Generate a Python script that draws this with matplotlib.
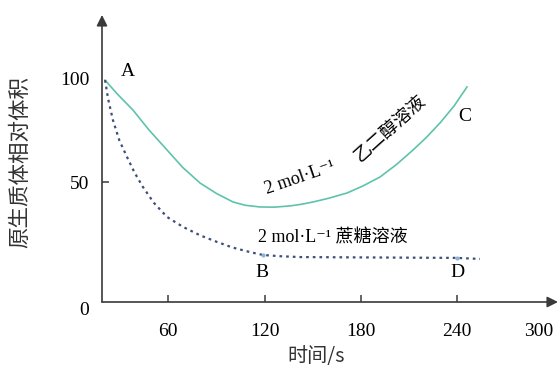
import matplotlib
matplotlib.use('Agg')
import matplotlib.pyplot as plt

plt.rcParams['font.family'] = ['Liberation Serif', 'Noto Sans CJK SC', 'DejaVu Serif']

# 2 mol/L ethylene glycol curve (A -> C)
glycol_t = [20.6, 28, 38.0, 48, 59.2, 69, 79.8, 90, 100.3, 108, 117.1, 126, 135.8, 143,
            150.2, 160, 171.3, 181, 191.9, 202, 212.5, 221, 229.3, 238, 246.1]
glycol_v = [99.0, 92.5, 84.6, 75.0, 65.4, 57.0, 49.5, 44.5, 40.4, 38.8, 38.0, 37.9, 38.5, 39.3,
            40.4, 42.2, 44.7, 48.0, 52.4, 58.3, 65.4, 71.6, 78.4, 86.5, 95.7]

# 2 mol/L sucrose curve (A -> B -> D)
sucrose_t = [20.6, 22.5, 25.5, 29.5, 34.3, 39, 44.2, 51, 59.2, 69.2, 80, 90.3, 100, 110.9,
             119.0, 130, 142.1, 190.0, 239.9, 254.2]
sucrose_v = [99.0, 90.0, 79.8, 70.0, 62.0, 54.5, 47.6, 40.0, 33.2, 28.4, 24.3, 21.2, 18.5, 16.3,
             14.9, 14.3, 13.9, 13.7, 13.5, 13.0]

point_t = [119.0, 239.9]
point_v = [14.9, 13.5]

xticks = [60, 120, 180, 240, 300]
yticks = [50, 100]

axis_col = '#3a3a3a'
teal = '#5fc2ac'
navy = '#3e4e7a'

fig = plt.figure(figsize=(5.6, 3.66), dpi=100)
ax = fig.add_axes([102/560, 64/366, 456/560, 287/366])
ax.set_xlim(18.7, 302.8)
ax.set_ylim(-7.7, 130.3)
for s in ax.spines.values():
    s.set_visible(False)

# axes with arrow heads
arrow = dict(arrowstyle='-|>', color=axis_col, lw=1.2, mutation_scale=16, shrinkA=0, shrinkB=0)
ax.annotate('', xy=(0, 1), xytext=(0, 0), xycoords='axes fraction', arrowprops=arrow)
ax.annotate('', xy=(1, 0), xytext=(0, 0), xycoords='axes fraction', arrowprops=arrow)

ax.plot(glycol_t, glycol_v, color=teal, lw=1.2, clip_on=False)
ax.plot(sucrose_t, sucrose_v, color=navy, lw=1.6, ls=(0, (1.2, 1.8)), clip_on=False)
ax.plot(point_t, point_v, 'o', color='#8fb3d6', ms=3, mec='none')

# ticks
ax.set_xticks(xticks)
ax.set_xticklabels([str(t) for t in xticks])
ax.set_yticks([ax.get_ylim()[0]] + yticks)
ax.set_yticklabels(['0'] + [str(t) for t in yticks])
ax.tick_params(axis='x', direction='in', length=5, width=1.1, color=axis_col, pad=15, labelsize=14)
ax.tick_params(axis='y', direction='in', length=5, width=1.1, color=axis_col, pad=9, labelsize=14)
xt = ax.xaxis.get_major_ticks()
xt[-1].tick1line.set_visible(False)
ax.get_xticklabels()[-1].set_ha('right')
yt = ax.yaxis.get_major_ticks()
yt[0].tick1line.set_visible(False)
yt[-1].tick1line.set_visible(False)
ax.get_yticklabels()[0].set_va('top')

ax.set_ylabel('原生质体相对体积', fontsize=15.5, color='#333333')
ax.yaxis.set_label_coords(-0.155, 0.488)
ax.set_xlabel('时间/s', fontsize=14.5, color='#333333', family=['Noto Sans CJK SC'])
ax.xaxis.set_label_coords(0.47, -0.155)

# point letters
ax.text(35, 103, 'A', fontsize=14, ha='center', va='center')
ax.text(118.4, 6.7, 'B', fontsize=14, ha='center', va='center')
ax.text(244.9, 81.3, 'C', fontsize=14, ha='center', va='center')
ax.text(239.9, 6.7, 'D', fontsize=14, ha='center', va='center')

# curve labels
ax.text(115.9, 23.1, '2 mol·L⁻¹ 蔗糖溶液', fontsize=13, ha='left', va='center')
ax.text(142, 52.0, '2 mol·L⁻¹', fontsize=13, ha='center', va='center',
        rotation=19, rotation_mode='anchor')
ax.text(198.5, 75.5, '乙二醇溶液', fontsize=13, ha='center', va='center',
        rotation=42, rotation_mode='anchor')

fig.savefig('out.png', dpi=100)
